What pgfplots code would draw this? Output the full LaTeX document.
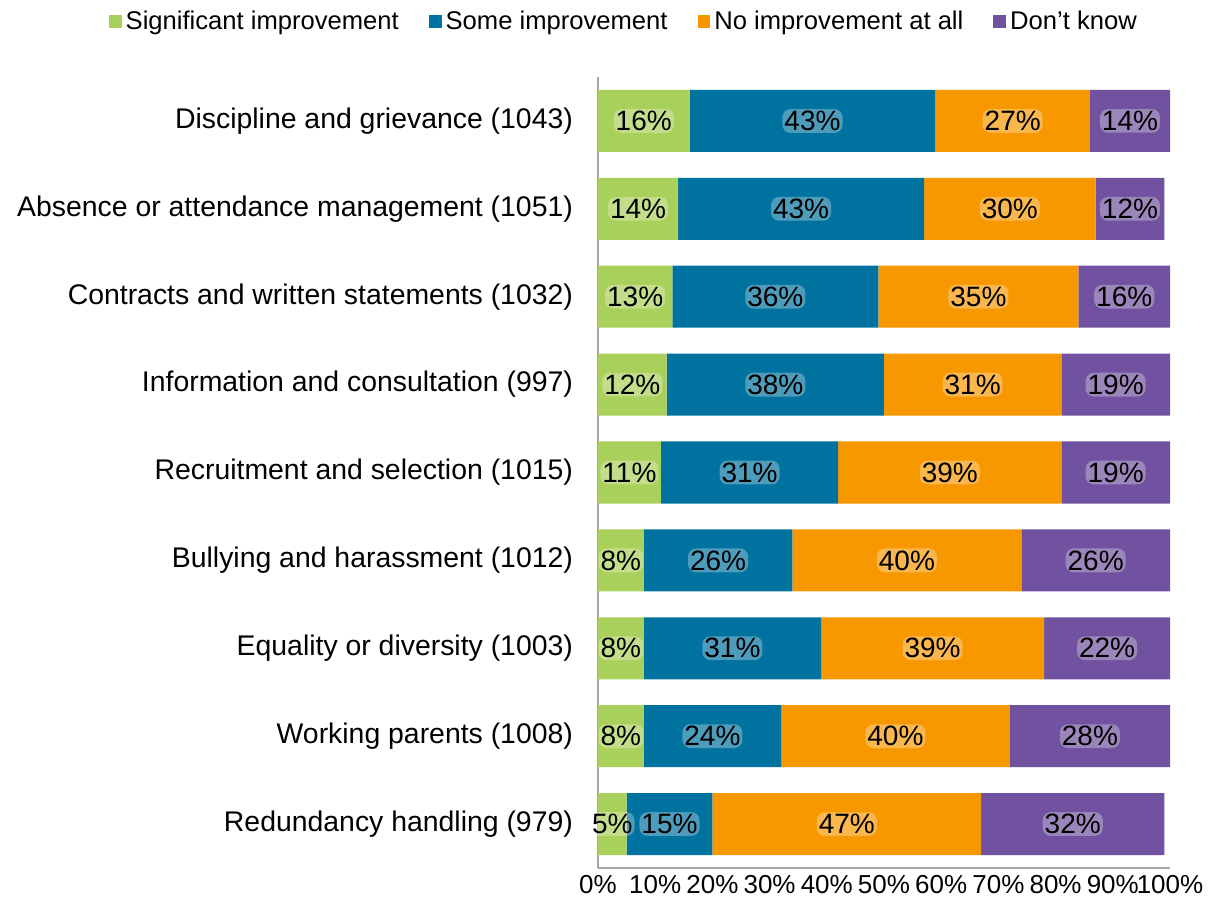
\documentclass[border=0pt]{standalone}
\usepackage{pgfplots}
\pgfplotsset{compat=1.18}
\usepackage{pgfplotstable}
\usepackage{fontspec}
\setmainfont{Liberation Sans}
\definecolor{cgreen}{HTML}{A9D05A}
\definecolor{cblue}{HTML}{00729F}
\definecolor{corange}{HTML}{F79800}
\definecolor{cpurple}{HTML}{7052A0}
\pgfplotstableread{
y s1 s2 s3 s4
8 16 43 27 14
7 14 43 30 12
6 13 36 35 16
5 12 38 31 19
4 11 31 39 19
3 8 26 40 26
2 8 31 39 22
1 8 24 40 28
0 5 15 47 32
}\datatab
\pgfplotstablecreatecol[create col/expr={\thisrow{s1}/2}]{m1}\datatab
\pgfplotstablecreatecol[create col/expr={\thisrow{s1}+\thisrow{s2}/2}]{m2}\datatab
\pgfplotstablecreatecol[create col/expr={\thisrow{s1}+\thisrow{s2}+\thisrow{s3}/2}]{m3}\datatab
\pgfplotstablecreatecol[create col/expr={\thisrow{s1}+\thisrow{s2}+\thisrow{s3}+\thisrow{s4}/2}]{m4}\datatab
\pgfplotsset{common/.style={
  at={(0,0)}, anchor=south west,
  scale only axis, width=286pt, height=395.5pt,
  xmin=0, xmax=100, ymin=-0.5, ymax=8.5}}
\begin{document}
\begin{tikzpicture}
\useasboundingbox (-299pt,-26pt) rectangle (308.5pt,434pt);
\begin{axis}[
  common,
  xbar stacked, bar width=31pt,
  axis x line*=bottom, axis y line*=left,
  axis line style={gray!70, line width=0.6pt},
  major tick length=0pt,
  xtick={0,10,...,100},
  xticklabels={0\%,10\%,20\%,30\%,40\%,50\%,60\%,70\%,80\%,90\%,100\%},
  xticklabel style={font=\fontsize{13}{15}\selectfont},
  ytick={0,...,8},
  yticklabels={Redundancy handling (979),Working parents (1008),Equality or diversity (1003),Bullying and harassment (1012),Recruitment and selection (1015),Information and consultation (997),Contracts and written statements (1032),Absence or attendance management (1051),Discipline and grievance (1043)},
  yticklabel style={font=\fontsize{14.2}{16}\selectfont, xshift=-9pt},
  legend columns=4,
  legend style={at={(0.047,1.07)}, anchor=center, draw=none, fill=none,
    font=\fontsize{12.8}{15}\selectfont,
    /tikz/every even column/.append style={column sep=13pt}},
  legend image code/.code={\fill[#1] (0pt,-3.2pt) rectangle (6.4pt,3.2pt);},
]
\addplot[fill=cgreen, draw=none] table[x=s1, y=y] {\datatab};
\addplot[fill=cblue, draw=none] table[x=s2, y=y] {\datatab};
\addplot[fill=corange, draw=none] table[x=s3, y=y] {\datatab};
\addplot[fill=cpurple, draw=none] table[x=s4, y=y] {\datatab};
\legend{Significant improvement, Some improvement, No improvement at all, Don't know}
\end{axis}
\begin{axis}[
  common, hide axis,
  nodes near coords={\pgfmathprintnumber[assume math mode=true]{\pgfplotspointmeta}\%},
  point meta=explicit,
  every node near coord/.style={anchor=center,
      font=\fontsize{14}{16}\selectfont, text=black,
      fill=white, fill opacity=0.3, text opacity=1, inner sep=1pt, rounded corners=4pt},
]
\addplot[draw=none, mark=none] table[x=m1, y=y, meta=s1] {\datatab};
\addplot[draw=none, mark=none] table[x=m2, y=y, meta=s2] {\datatab};
\addplot[draw=none, mark=none] table[x=m3, y=y, meta=s3] {\datatab};
\addplot[draw=none, mark=none] table[x=m4, y=y, meta=s4] {\datatab};
\end{axis}
\end{tikzpicture}
\end{document}
